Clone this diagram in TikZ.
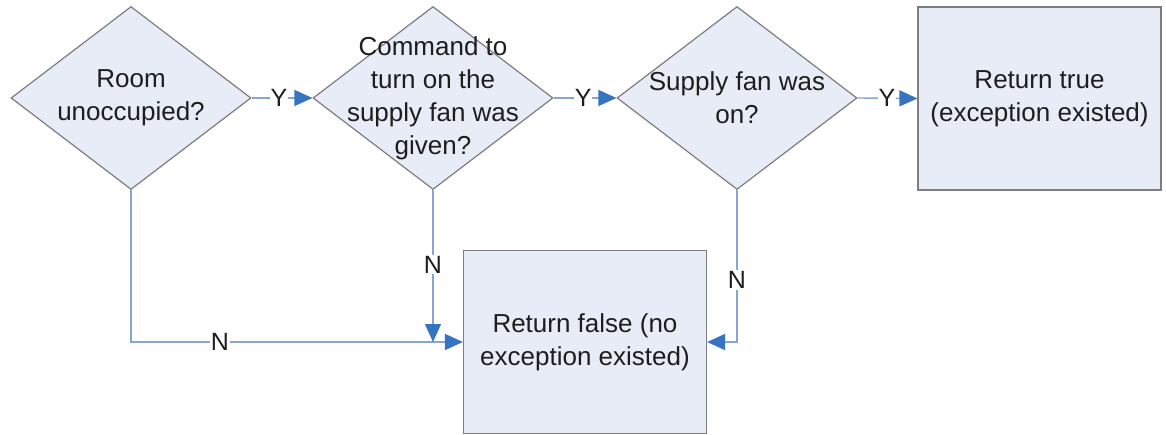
\documentclass[tikz,border=0pt]{standalone}
\usepackage{fontspec}
\setmainfont{Liberation Sans}
\usepackage{xcolor}
\usetikzlibrary{shapes.geometric,arrows.meta,positioning}

\definecolor{shapefill}{RGB}{231,236,246}
\definecolor{shapeline}{RGB}{125,125,130}
\definecolor{linkblue}{RGB}{135,165,210}
\definecolor{tipblue}{RGB}{55,115,195}
\definecolor{textgray}{RGB}{30,30,30}

\tikzset{
    question/.style={diamond, draw=shapeline, fill=shapefill, line width=1.2pt,
        minimum width=240pt, minimum height=183pt, inner sep=0pt},
    result/.style={rectangle, draw=shapeline, fill=shapefill, line width=1.2pt,
        minimum width=243pt, minimum height=183pt, align=center},
    txt/.style={align=center, text=textgray, font=\fontsize{26}{33}\selectfont},
    link/.style={draw=linkblue, line width=1.4pt,
        -{Triangle[length=18pt,width=16pt,color=tipblue]}},
    answer/.style={fill=white, inner sep=1pt, text=textgray,
        font=\fontsize{25}{30}\selectfont}
}

\begin{document}
\begin{tikzpicture}[x=1pt, y=-1pt]
    \useasboundingbox (0,0) rectangle (1166,435);

    % Decisions
    \node[question, label={[txt]center:Room\\unoccupied?}] (occupied) at (131,98) {};
    \node[question, label={[txt]center:Command to\\turn on the\\supply fan was\\given?}] (command) at (433,98) {};
    \node[question, label={[txt]center:Supply fan was\\on?}] (fanon) at (737,98) {};

    % Results
    \node[result, txt] (true) at (1039.5,98.5) {Return true\\(exception existed)};
    \node[result, txt] (false) at (585,342) {Return false (no\\exception existed)};

    % Yes branches
    \draw[link] (occupied.east) -- node[answer, pos=0.45] {Y} (command.west);
    \draw[link] (command.east) -- node[answer, pos=0.47] {Y} (fanon.west);
    \draw[link] (fanon.east) -- node[answer, pos=0.49] {Y} (true.west);

    % No branches
    \coordinate (join) at (command.south |- false.west);
    \draw[link] (occupied.south) |- node[answer, pos=0.634] {N} (false.west);
    \draw[link] (command.south) -- node[answer, pos=0.49] {N} (join);
    \draw[link] (fanon.south) |- node[answer, pos=0.296] {N} (false.east);
\end{tikzpicture}
\end{document}
